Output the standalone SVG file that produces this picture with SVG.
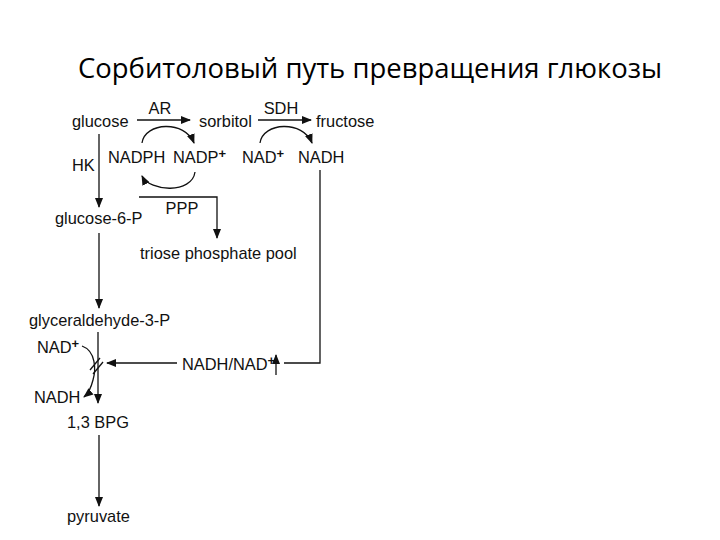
<svg xmlns="http://www.w3.org/2000/svg" width="720" height="540" viewBox="0 0 720 540">
<style>
.t{font-family:"Liberation Sans",Arial,sans-serif;font-size:16.4px;fill:#111}
.sup{font-size:13px;font-weight:bold}
.title{font-family:"Open Sans","Liberation Sans",sans-serif;font-size:28px;fill:#000}
.ln{stroke:#111;stroke-width:1.3;fill:none}
</style>
<defs>
<marker id="ah" markerWidth="10" markerHeight="8" refX="9" refY="4" orient="auto" markerUnits="userSpaceOnUse">
<path d="M0,0 L10,4 L0,8 Z" fill="#111"/>
</marker>
</defs>
<rect width="720" height="540" fill="#fff"/>
<text class="title" x="78" y="78" textLength="584" lengthAdjust="spacingAndGlyphs">Сорбитоловый путь превращения глюкозы</text>

<g id="glucose"><text class="t" x="72" y="127">glucose</text></g>
<g id="sorbitol"><text class="t" x="199" y="127">sorbitol</text></g>
<g id="fructose"><text class="t" x="316" y="127">fructose</text></g>
<g id="AR"><text class="t" x="160" y="114" text-anchor="middle">AR</text></g>
<g id="SDH"><text class="t" x="281" y="114" text-anchor="middle">SDH</text></g>
<g id="NADPH"><text class="t" x="108" y="163">NADPH</text></g>
<g id="NADPplus"><text class="t" x="173" y="163">NADP<tspan class="sup" dy="-5">+</tspan></text></g>
<g id="NADplus1"><text class="t" x="242" y="163">NAD<tspan class="sup" dy="-5">+</tspan></text></g>
<g id="NADH1"><text class="t" x="298" y="163">NADH</text></g>
<g id="HK"><text class="t" x="72" y="171">HK</text></g>
<g id="glucose6P"><text class="t" x="55" y="224">glucose-6-P</text></g>
<g id="PPP"><text class="t" x="182" y="214" text-anchor="middle">PPP</text></g>
<g id="triose"><text class="t" x="140" y="259">triose phosphate pool</text></g>
<g id="gap"><text class="t" x="29" y="326">glyceraldehyde-3-P</text></g>
<g id="NADplus2"><text class="t" x="37" y="353">NAD<tspan class="sup" dy="-5">+</tspan></text></g>
<g id="NADH2"><text class="t" x="34" y="403">NADH</text></g>
<g id="ratio"><text class="t" x="182" y="370">NADH/NAD<tspan class="sup" dy="-5">+</tspan></text></g>
<g id="BPG"><text class="t" x="67" y="428">1,3 BPG</text></g>
<g id="pyruvate"><text class="t" x="67" y="522">pyruvate</text></g>

<g id="connectors">
<line class="ln" x1="137" y1="120" x2="190" y2="120" marker-end="url(#ah)"/>
<line class="ln" x1="258" y1="120" x2="311" y2="120" marker-end="url(#ah)"/>
<path class="ln" d="M142,143 C145,122 185,120 194,143" marker-end="url(#ah)"/>
<path class="ln" d="M195,172 C192,194 150,192 142,176" marker-end="url(#ah)"/>
<path class="ln" d="M260,143 C263,122 303,120 312,143" marker-end="url(#ah)"/>
<line class="ln" x1="99" y1="134" x2="99" y2="207" marker-end="url(#ah)"/>
<polyline class="ln" points="139,197 217,197 217,238" marker-end="url(#ah)"/>
<line class="ln" x1="99" y1="233" x2="99" y2="308" marker-end="url(#ah)"/>
<line class="ln" x1="98" y1="332" x2="98" y2="403" marker-end="url(#ah)"/>
<path class="ln" d="M82,346 C96,351 96,370 93,380 C91,388 89,393 84,397" marker-end="url(#ah)"/>
<line class="ln" x1="90" y1="370" x2="100" y2="358"/>
<line class="ln" x1="93" y1="374" x2="103" y2="362"/>
<line class="ln" x1="177" y1="363" x2="107" y2="363" marker-end="url(#ah)"/>
<line class="ln" x1="276" y1="375" x2="276" y2="355" marker-end="url(#ah)"/>
<polyline class="ln" points="320,170 320,363 284,363"/>
<line class="ln" x1="99" y1="435" x2="99" y2="506" marker-end="url(#ah)"/>
</g>
</svg>
